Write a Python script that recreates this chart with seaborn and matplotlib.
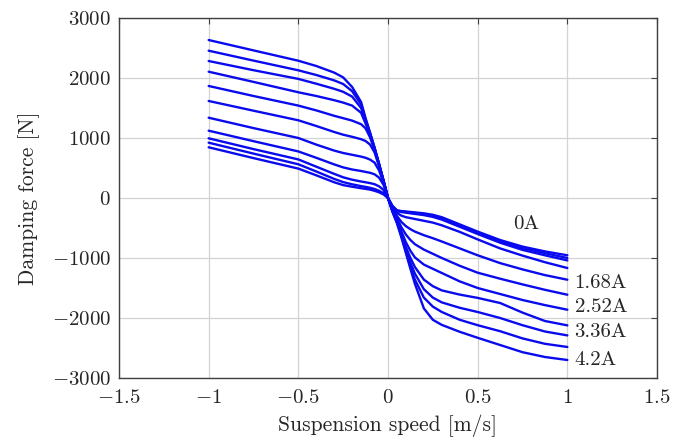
import matplotlib
matplotlib.use("Agg")
import matplotlib.pyplot as plt
import seaborn as sns
import pandas as pd
from matplotlib.ticker import FixedLocator, FuncFormatter

# Suspension speed grid [m/s]
speed = [-1, -0.75, -0.5, -0.4, -0.3, -0.25, -0.2, -0.15, -0.125, -0.1, -0.075, -0.05, -0.025, 0,
         0.025, 0.05, 0.075, 0.1, 0.125, 0.15, 0.2, 0.25, 0.3, 0.4, 0.5, 0.625, 0.75, 0.875, 1]

# Damping force [N] per coil current
f_0_00 = [845, 665, 490, 378, 262, 215, 188, 163, 152, 140, 120, 95, 60, 0,
          -130, -205, -218, -225, -232, -240, -255, -280, -320, -440, -560, -700, -810, -890, -955]
f_0_42 = [922, 740, 562, 442, 318, 265, 228, 198, 185, 170, 150, 120, 80, 0,
          -140, -210, -225, -232, -240, -250, -268, -295, -335, -455, -575, -720, -835, -920, -1000]
f_0_84 = [995, 815, 643, 522, 402, 345, 305, 275, 262, 248, 230, 195, 135, 0,
          -150, -220, -235, -245, -255, -265, -285, -315, -360, -480, -600, -745, -865, -955, -1040]
f_1_26 = [1122, 947, 776, 670, 560, 510, 475, 450, 435, 420, 395, 340, 220, 0,
          -170, -250, -295, -320, -335, -350, -380, -410, -455, -565, -690, -840, -960, -1070, -1167]
f_1_68 = [1338, 1165, 1000, 890, 790, 750, 720, 690, 670, 640, 590, 460, 260, 0,
          -190, -300, -400, -470, -520, -560, -620, -670, -725, -840, -955, -1085, -1190, -1285, -1362]
f_2_10 = [1617, 1455, 1295, 1200, 1100, 1055, 1020, 980, 950, 890, 760, 530, 275, 0,
          -200, -340, -490, -610, -700, -770, -860, -930, -1000, -1130, -1245, -1345, -1440, -1530, -1612]
f_2_52 = [1867, 1700, 1540, 1460, 1370, 1330, 1290, 1230, 1160, 1010, 800, 550, 282, 0,
          -210, -370, -560, -740, -880, -990, -1110, -1180, -1250, -1390, -1500, -1600, -1700, -1785, -1862]
f_2_94 = [2105, 1935, 1762, 1700, 1630, 1590, 1540, 1420, 1240, 1045, 820, 560, 286, 0,
          -215, -390, -600, -820, -1000, -1150, -1360, -1470, -1540, -1610, -1665, -1750, -1910, -2050, -2123]
f_3_36 = [2283, 2130, 1985, 1905, 1820, 1770, 1690, 1500, 1280, 1065, 830, 565, 288, 0,
          -220, -400, -620, -860, -1080, -1260, -1520, -1660, -1740, -1830, -1900, -2000, -2120, -2225, -2290]
f_3_78 = [2455, 2290, 2128, 2050, 1960, 1900, 1780, 1560, 1310, 1080, 835, 568, 290, 0,
          -225, -410, -640, -890, -1140, -1360, -1660, -1810, -1900, -2030, -2120, -2220, -2340, -2430, -2483]
f_4_20 = [2633, 2460, 2288, 2200, 2090, 2010, 1850, 1600, 1330, 1090, 840, 570, 290, 0,
          -230, -420, -660, -920, -1180, -1430, -1840, -2030, -2115, -2230, -2330, -2450, -2570, -2650, -2700]

currents = [0.0, 0.42, 0.84, 1.26, 1.68, 2.10, 2.52, 2.94, 3.36, 3.78, 4.20]
series = [f_0_00, f_0_42, f_0_84, f_1_26, f_1_68, f_2_10, f_2_52, f_2_94, f_3_36, f_3_78, f_4_20]

label_texts = ["0A", "1.68A", "2.52A", "3.36A", "4.2A"]
label_x = [0.70, 1.04, 1.04, 1.04, 1.04]
label_y = [-430, -1410, -1825, -2240, -2700]

x_ticks = [-1.5, -1, -0.5, 0, 0.5, 1, 1.5]
y_ticks = [-3000, -2000, -1000, 0, 1000, 2000, 3000]

rows = []
for cur, f in zip(currents, series):
    for s, v in zip(speed, f):
        rows.append({"speed": s, "force": v, "current": cur})
df = pd.DataFrame(rows)

sns.set_style("white")
plt.rcParams["font.family"] = ["cmr10", "DejaVu Serif"]
plt.rcParams["mathtext.fontset"] = "cm"
plt.rcParams["axes.unicode_minus"] = True

fig = plt.figure(figsize=(6.93, 4.43), dpi=100)
ax = fig.add_axes([119 / 693, 1 - 378 / 443, (657 - 119) / 693, (378 - 18) / 443])

sns.lineplot(data=df, x="speed", y="force", hue="current", units="current",
             estimator=None, palette=["#0a0aee"] * len(currents), legend=False,
             linewidth=1.7, ax=ax)

ax.set_xlim(-1.5, 1.5)
ax.set_ylim(-3000, 3000)
ax.xaxis.set_major_locator(FixedLocator(x_ticks))
ax.yaxis.set_major_locator(FixedLocator(y_ticks))


def fmt(v, pos):
    t = f"{v:g}"
    return "$" + t + "$"


ax.xaxis.set_major_formatter(FuncFormatter(fmt))
ax.yaxis.set_major_formatter(FuncFormatter(fmt))
ax.grid(True, color="#d3d3d3", linewidth=0.9)
ax.set_axisbelow(True)
for sp in ax.spines.values():
    sp.set_color("#404040")
    sp.set_linewidth(1.0)
ax.tick_params(direction="in", length=4, width=0.8, color="#404040",
               labelsize=15, top=True, right=True)
ax.tick_params(axis="y", pad=6)
ax.tick_params(axis="x", pad=8)

ax.set_xlabel("Suspension speed [m/s]", fontsize=15.5, labelpad=5)
ax.set_ylabel("Damping force [N]", fontsize=15.5, labelpad=8)

for t, x, y in zip(label_texts, label_x, label_y):
    ax.text(x, y, t, fontsize=15, ha="left", va="center")

fig.savefig("out.png", dpi=100)
